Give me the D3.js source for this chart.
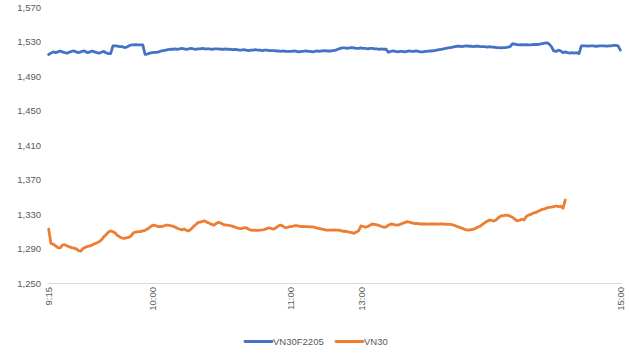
<!DOCTYPE html>
<html><head><meta charset="utf-8">
<script src="https://cdn.jsdelivr.net/npm/d3@7"></script>
<style>
html,body{margin:0;padding:0;background:#fff;}
svg text{font-family:"Liberation Sans",Arial,sans-serif;fill:#595959;}
</style></head>
<body><svg id="c" width="630" height="360"></svg>
<script>
// ---- categories (minute timestamps of the trading day) ----
function minutes(h0,m0,h1,m1){const out=[];for(let t=h0*60+m0;t<=h1*60+m1;t++){out.push(Math.floor(t/60)+":"+String(t%60).padStart(2,"0"));}return out;}
const categories = minutes(9,15,11,30).concat(minutes(13,0,14,52)).concat(["15:00"]);
const tickLabels = ["9:15","10:00","11:00","13:00","15:00"];
const yTicks = [1250,1290,1330,1370,1410,1450,1490,1530,1570];
const seriesNames = ["VN30F2205","VN30"];

const vn30f = [
1515,1516.5,1518,1517,1518,1519,1518,1517,1516.5,1517.5,1518.5,1519,1518,1517,1518,1519,1518.5,1517,1518,1519,1518,1517,1516.5,1517.5,1518.5,1517,1516,1516,
1525,1525,1524.5,1524,1524,1523,1523.5,1525,1526,1526,1526.5,1526,1526,1526,
1515,1515.5,1516.5,1517,1517.5,1517.5,
1518,1519,1519.5,1520,1520.5,1521,1521,1521.5,1521,1521.5,1522,1521.5,1521,1521.5,1522,1521.5,1521,1521.5,1521.5,1522,1521.5,1521.5,
1521.5,1521,1521.5,1521.5,1521.5,1521,1521,1521.5,1521,1521,1520.5,1521,1520.5,
1520,1520,1520.5,1520,1519.5,1520,1520,1520.5,1520,1520,1519.5,1520,1520,1519.5,1519.5,
1519.5,1519,1519,1518.5,1519,1518.5,1518.5,
1518.5,1518.5,1519,1518.5,1518,1518.5,1518.5,1519,1518.5,1518.5,1518,1518.5,1519,1518.5,1519,1519.5,1519,
1519,1519,1519.5,1520,1521,1522,
1522.5,1522.5,1522,1522.5,1523,1522.5,1522,1522,1522.5,1522,1522,1521.5,1522,1522,1521.5,1521.5,1521,1521.5,1521,1521,
1517.5,1518.5,1519,
1518.5,1518,1518.5,1518.5,1518,1518.5,1519,1518.5,1518.5,1519,1518.5,1518,1518,1518.5,1518.5,1519,1519,1519.5,
1520,1520.5,1521,1521.5,1522,1522.5,1523,1523.5,
1524,1524.5,1524.5,1524,1524.5,1525,1524.5,1524.5,1524,1524.5,1524.5,1524,1524,1524,1523.5,1524,1523.5,1523.5,
1523,1523,1522.5,1523,1523,1523.5,1524,
1527.4,1527,1526.5,1526,1526.5,1526,1526.5,1526,1526,1526.5,1526.5,1526.5,
1527,1527.5,1528,1528.5,1527,
1524,1519,1518.5,1520,1519,1517,1518,1517,1516.5,1517,1516.5,1517,1516,
1525,1525,1525,1524.5,1525,1525,1524.5,1524.5,1525,1525,1525,1524.5,1525,1525,1525.5,1525.5,1525,
1520];

const vn30 = [
1312.6,1296,1295,1293,1291,1290.6,1294,1294.5,1293,1292,
1291,1290.5,1289.5,1287.5,1287,1290,1291.5,1292.5,1293,1294,
1295.5,1296.5,1298,1300,1303.5,1306,1309,1310.3,1309.5,1308,
1305,1303.5,1302,1301.8,1302.5,1303,1305,1308.5,1309,1309.5,
1309.5,1310.5,1311,1312.5,1314.5,1316.5,1317.2,1316,1315.3,1315.5,
1316,1317,1317,1316.5,1316,1315,1313.5,1312.6,1311.5,1312.6,
1311,1310.3,1312.5,1315.3,1317.5,1320,1320.5,1321.5,1321.9,1320.5,
1319.2,1318,1317.2,1319,1320.4,1319.5,1318,1317.2,1317,1316.5,
1316,1315,1314,1313.4,1313,1314,1314.1,1312.5,1311.4,1311,
1311.4,1311,1311.4,1311.5,1312,1313,1314,1313,1312.6,1314,
1316,1317.2,1316,1314.1,1314.5,1315.3,1315.5,1316.4,1316.4,1316,
1315.3,1315.5,1315.3,1315.3,1315,1315,1314.5,1313.5,1313,1312.5,
1312,1311.4,1311.4,1311.4,1311.5,1311.4,1311.4,1311,1310,1310,
1309.5,1309,1308.5,1307.6,1309,1310.5,1316.1,1315.5,1314.6,1315.5,
1317,1318.4,1318,1317.5,1316.5,1315.5,1314.6,1315,1317,1318.4,
1318,1317.5,1317.2,1318,1319,1320,1321.1,1320.5,1320,1319.2,
1319,1318.8,1318.4,1318.6,1318.4,1318.2,1318.4,1318.6,1318.4,1318.4,
1318.2,1318.4,1318.4,1318,1318.2,1318,1317.5,1316.5,1315.5,1314.5,
1313.5,1312.5,1311.5,1311.4,1312,1312.3,1313.5,1315,1316,1318,
1320,1321.5,1323,1322.5,1321.7,1323.5,1326,1327.7,1328,1328.8,
1328.5,1327.5,1326.2,1324,1322.2,1322.5,1323.9,1323,1327,1328.8,
1329.5,1331,1331.5,1333,1334,1335.4,1336,1337,1337.7,1338,
1338.5,1339.3,1338.5,1339,1336.6,1346.2];

const colors = ["#4472C4","#ED7D31"];

const svg = d3.select("#c");
const x = d3.scalePoint().domain(categories).range([47.5,621.5]).padding(0.5);
const y = d3.scaleLinear().domain([1250,1570]).range([283,7]);

// y axis labels
const yAxis = svg.append("g").attr("transform","translate(41,0)")
  .call(d3.axisLeft(y).tickValues(yTicks).tickFormat(d3.format(",")).tickSize(0).tickPadding(0));
yAxis.select(".domain").remove();
yAxis.selectAll("text").style("font-size","9.5px").attr("fill","#595959");

// baseline + x labels
const xAxis = svg.append("g").attr("transform","translate(0,283)")
  .call(d3.axisBottom(x).tickValues(tickLabels).tickSize(0).tickPadding(0));
xAxis.select(".domain").attr("d","M47.5,0.5H621.5").attr("stroke","#d9d9d9").attr("stroke-width",1);
xAxis.selectAll("text").style("font-size","9.5px").attr("fill","#595959")
  .attr("transform","rotate(-90)").attr("text-anchor","end").attr("dy","0.35em").attr("x",-4).attr("y",0);

const line = d3.line().x((d,i)=>x(categories[i])).y(d=>y(d)).curve(d3.curveLinear);
[vn30f, vn30].forEach((s,k)=>{
  svg.append("path").datum(s).attr("d",line).attr("fill","none")
    .attr("stroke",colors[k]).attr("stroke-width",2.8).attr("stroke-linejoin","round").attr("stroke-linecap","round");
});

// legend
const leg = [{x:245,name:seriesNames[0],c:colors[0]},{x:336,name:seriesNames[1],c:colors[1]}];
leg.forEach(l=>{
  svg.append("line").attr("x1",l.x).attr("x2",l.x+27).attr("y1",341.5).attr("y2",341.5)
    .attr("stroke",l.c).attr("stroke-width",2.8).attr("stroke-linecap","round");
  svg.append("text").attr("x",l.x+28).attr("y",341.5).attr("dy","0.35em").style("font-size","9.5px").text(l.name);
});
</script></body></html>
